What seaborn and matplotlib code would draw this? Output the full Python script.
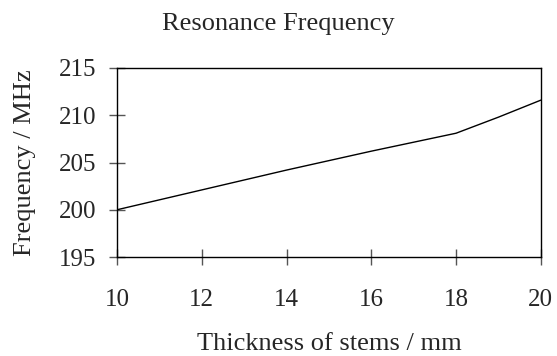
import matplotlib
matplotlib.use("Agg")
import matplotlib.pyplot as plt
import seaborn as sns
import pandas as pd

# thickness of stems (mm) vs resonance frequency (MHz)
thickness = [10, 12, 14, 16, 18, 19, 20]
frequency = [200.0, 202.1, 204.2, 206.2, 208.1, 209.8, 211.6]
xticks = [10, 12, 14, 16, 18, 20]
yticks = [195, 200, 205, 210, 215]

sns.set_style("white")
plt.rcParams['font.family'] = ['Liberation Serif', 'DejaVu Serif']

df = pd.DataFrame({"thickness": thickness, "frequency": frequency})

fig = plt.figure(figsize=(5.57, 3.56), dpi=100)
ax = fig.add_axes([0.21, 0.278, 0.761, 0.531])
sns.lineplot(data=df, x="thickness", y="frequency", color="black", linewidth=1, ax=ax)

ax.set_xlim(10, 20)
ax.set_ylim(195, 215)
ax.set_xticks(xticks)
ax.set_yticks(yticks)
ax.tick_params(bottom=True, left=True, direction="inout", length=12, width=1,
               color="#555555", labelsize=18)
ax.tick_params(axis="x", pad=17)
ax.tick_params(axis="y", pad=9)
for s in ax.spines.values():
    s.set_color("black")
    s.set_linewidth(1)

ax.set_xlabel("Thickness of stems / mm", fontsize=19, labelpad=16)
ax.set_ylabel("Frequency / MHz", fontsize=19, labelpad=16)
fig.suptitle("Resonance Frequency", fontsize=19, x=0.5, y=1 - 30 / 356, va="baseline")

fig.savefig("out.png", dpi=100)
